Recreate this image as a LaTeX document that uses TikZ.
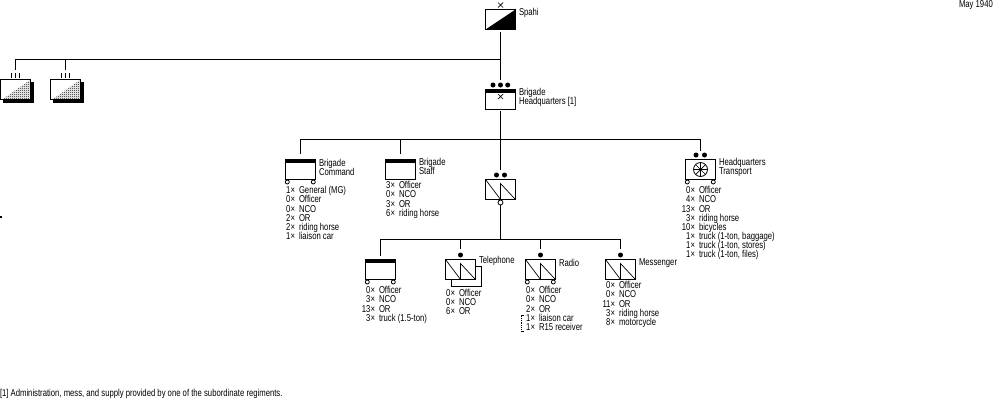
\documentclass[tikz,border=0pt]{standalone}
\usepackage{fontspec}
\setmainfont{Liberation Sans}[FakeStretch=0.77]
\usetikzlibrary{patterns,shapes.misc,positioning}
\pgfdeclarepatternformonly{checker}{\pgfqpoint{0pt}{0pt}}{\pgfqpoint{2pt}{2pt}}{\pgfqpoint{2pt}{2pt}}{%
  \pgfpathrectangle{\pgfqpoint{0pt}{0pt}}{\pgfqpoint{1pt}{1pt}}%
  \pgfpathrectangle{\pgfqpoint{1pt}{1pt}}{\pgfqpoint{1pt}{1pt}}%
  \pgfusepath{fill}}
\newcommand{\itm}[2]{\makebox[15pt][r]{#1×}\hspace{4pt}#2}
\newcommand{\tinyfont}{\fontsize{10}{9.15}\selectfont\lineskiplimit=-10pt\relax}
\tikzset{
  x=1pt,y=-1pt,
  txt/.style={inner sep=0pt,outer sep=0pt,anchor=west,align=left,font=\tinyfont},
  list/.style={inner sep=0pt,outer sep=0pt,anchor=north west,align=left,font=\tinyfont},
  unitbox/.style={draw=black,fill=white,line width=1pt,minimum width=30pt,minimum height=20pt,inner sep=0pt,outer sep=0pt},
  band/.style={path picture={\fill[black] (path picture bounding box.north west) rectangle ([yshift=-3.5pt]path picture bounding box.north east);}},
  signal/.style={path picture={\draw[line width=.7pt] (path picture bounding box.north west) -- (path picture bounding box.south) -- ++(0,-16) -- (path picture bounding box.south east);}},
  conn/.style={line width=1pt,draw=black},
  dot/.style={circle,fill=black,draw=none,minimum size=5pt,inner sep=0pt,outer sep=0pt},
  ring/.style={circle,fill=white,draw=black,line width=.8pt,minimum size=4pt,inner sep=0pt,outer sep=0pt},
  xmark/.style={cross out,draw=black,line width=.7pt,minimum size=5pt,inner sep=0pt,outer sep=0pt},
  tick/.style={line width=1pt,draw=black},
}
\begin{document}
\begin{tikzpicture}
\useasboundingbox (0,0) rectangle (1000,400);
% headline texts
\node[txt] (date) at (959,5) {May 1940};
\node[txt] (note) at (0,393.5) {[1] Administration, mess, and supply provided by one of the subordinate regiments.};
\fill[black] (0,216) rectangle (1.5,217.5);

% Spahi
\node[unitbox] (spahi) at (500.5,19.5) {};
\fill[black] (spahi.south west) -- (spahi.north east) -- (spahi.south east) -- cycle;
\node[xmark] (spahix) at (500.5,5) {};
\node[txt] (spahit) at (519,13) {Spahi};

% left detached units
\fill[black] (3,82) rectangle (34,103);
\node[unitbox,anchor=north west] (regA) at (0.5,79.5) {};
\fill[pattern=checker] (3,99) -- (30,80) -- (30,99) -- cycle;
\fill[black] (53,82) rectangle (84,103);
\node[unitbox,anchor=north west] (regB) at (50.5,79.5) {};
\fill[pattern=checker] (53,99) -- (80,80) -- (80,99) -- cycle;
\foreach \tx in {11.5,15.5,19.5,61.5,65.5,69.5} \draw[tick] (\tx,73) -- (\tx,78);
\coordinate (endA) at (15.5,70);
\coordinate (endB) at (65.5,70);

% Brigade HQ
\node[unitbox,band] (hq) at (500.5,99.5) {};
\node[xmark] (hqx) at (500.5,96.5) {};
\node[dot] (hqd1) at (493,85) {};
\node[dot] (hqd2) at (500.5,85) {};
\node[dot] (hqd3) at (507.7,85) {};
\node[txt] (hqt) at (519,97.5) {Brigade\\Headquarters [1]};

% top connectors
\coordinate (j1) at (500.5,59.5);
\draw[conn,shorten <=2pt,shorten >=3pt] (spahi) -- (hqd2);
\draw[conn] (j1) -| (endA);
\draw[conn] (j1) -| (endB);

% second level
\coordinate (j2) at (500.5,139.5);
\draw[conn,shorten <=1.5pt] (hq) -- (j2);

\node[unitbox,band] (cmd) at (300.5,169.5) {};
\node[ring] (cmdw1) at (287.3,182) {};
\node[ring] (cmdw2) at (313.3,182) {};
\node[txt] (cmdt) at (319,167.5) {Brigade\\Command};
\node[list] (cmdl) at (280,186.5) {\itm{1}{General (MG)}\\\itm{0}{Officer}\\\itm{0}{NCO}\\\itm{2}{OR}\\\itm{2}{riding horse}\\\itm{1}{liaison car}};

\node[unitbox,band] (staff) at (400.5,169.5) {};
\node[txt] (stafft) at (419,166.5) {Brigade\\Staff};
\node[list] (staffl) at (380,181.5) {\itm{3}{Officer}\\\itm{0}{NCO}\\\itm{3}{OR}\\\itm{6}{riding horse}};

\node[unitbox,signal] (sig) at (500.5,189.5) {};
\node[dot] (sigd1) at (496.5,175) {};
\node[dot] (sigd2) at (504.5,175) {};
\coordinate (sigdots) at (500.5,175);
\node[ring,minimum size=5pt] (sigr) at (500.5,202.5) {};

\node[unitbox] (trans) at (700.5,169.5) {};
\node[dot] (transd1) at (696,155) {};
\node[dot] (transd2) at (704.5,155) {};
\coordinate (transdots) at (700.5,155);
\draw[line width=.8pt] (700.5,169.5) circle (7);
\foreach \ang in {0,45,...,315} \draw[line width=.7pt] (700.5,169.5) -- +(\ang:7);
\node[ring] (transw1) at (687.3,182) {};
\node[ring] (transw2) at (713.3,182) {};
\node[txt] (transt) at (719,167.5) {Headquarters\\Transport};
\node[list] (transl) at (680,186.5) {\itm{0}{Officer}\\\itm{4}{NCO}\\\itm{13}{OR}\\\itm{3}{riding horse}\\\itm{10}{bicycles}\\\itm{1}{truck (1-ton, baggage)}\\\itm{1}{truck (1-ton, stores)}\\\itm{1}{truck (1-ton, files)}};

\draw[conn,shorten >=5.5pt] (j2) -| (cmd.north);
\draw[conn,shorten >=5.5pt] (j2) -| (staff.north);
\draw[conn,shorten >=4pt] (j2) -| (transdots);
\draw[conn,shorten >=5pt] (j2) -- (sigdots);

% third level
\coordinate (j3) at (500.5,239.5);
\draw[conn] (sigr) -- (j3);

\node[unitbox,band] (trk) at (380.5,269.5) {};
\node[ring] (trkw1) at (367.3,282) {};
\node[ring] (trkw2) at (393.3,282) {};
\node[list] (trkl) at (360,286.5) {\itm{0}{Officer}\\\itm{3}{NCO}\\\itm{13}{OR}\\\itm{3}{truck (1.5-ton)}};

\node[unitbox] (telb) at (466.5,276.5) {};
\node[unitbox,signal] (tel) at (460.5,269.5) {};
\node[dot] (teld) at (460.5,255) {};
\node[txt] (telt) at (479,261) {Telephone};
\node[list] (tell) at (440,289) {\itm{0}{Officer}\\\itm{0}{NCO}\\\itm{6}{OR}};

\node[unitbox,signal] (rad) at (540.5,269.5) {};
\node[dot] (radd) at (540.5,255) {};
\node[ring] (radw1) at (527.3,282) {};
\node[ring] (radw2) at (553.3,282) {};
\node[txt] (radt) at (559,263) {Radio};
\node[list] (radl) at (520,286.5) {\itm{0}{Officer}\\\itm{0}{NCO}\\\itm{2}{OR}\\\itm{1}{liaison car}\\\itm{1}{R15 receiver}};
\draw[densely dotted,line width=.8pt] (524,315) -- (521.5,315) -- (521.5,331) -- (524,331);

\node[unitbox,signal] (msg) at (620.5,269.5) {};
\node[dot] (msgd) at (620.5,255) {};
\node[txt] (msgt) at (639,263) {Messenger};
\node[list] (msgl) at (600,281.5) {\itm{0}{Officer}\\\itm{0}{NCO}\\\itm{11}{OR}\\\itm{3}{riding horse}\\\itm{8}{motorcycle}};

\draw[conn,shorten >=4pt] (j3) -| (trk.north);
\draw[conn,shorten >=3.5pt] (j3) -| (teld.north);
\draw[conn,shorten >=3.5pt] (j3) -| (radd.north);
\draw[conn,shorten >=3.5pt] (j3) -| (msgd.north);
\end{tikzpicture}
\end{document}
